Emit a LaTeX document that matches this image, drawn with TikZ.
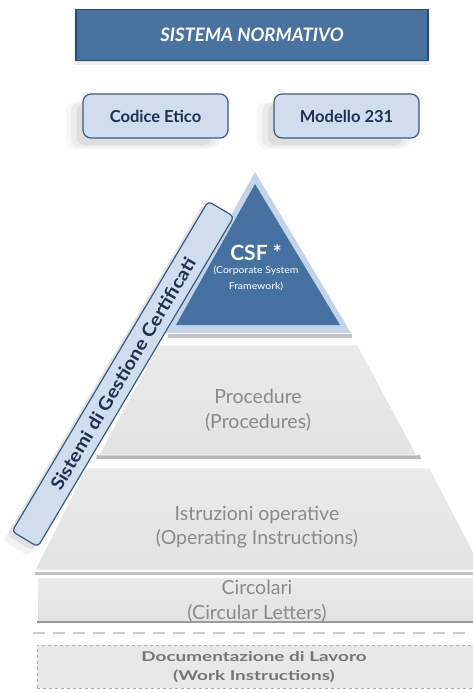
\documentclass[tikz,border=0pt]{standalone}
\usepackage{fontspec}
\setmainfont{Lato}
\usetikzlibrary{shadows,shapes.geometric}
\definecolor{navyfill}{HTML}{4A72A0}
\definecolor{navyedge}{HTML}{2A4A78}
\definecolor{lightblue}{HTML}{CFDDEE}
\definecolor{lightedge}{HTML}{3A5A82}
\definecolor{darktext}{HTML}{1F3050}
\definecolor{triedge}{HTML}{C3D4E8}
\definecolor{trifill}{HTML}{4571A0}
\definecolor{layertext}{HTML}{8A8A8A}
\definecolor{layerfill}{HTML}{E2E2E2}
\definecolor{layerdark}{HTML}{9A9A9A}
\definecolor{doctext}{HTML}{767676}
\tikzset{
  softshadow/.style={
    drop shadow={opacity=0.07, shadow xshift=-12pt, shadow yshift=-9pt, shadow scale=1.06},
    drop shadow={opacity=0.09, shadow xshift=-12pt, shadow yshift=-9pt, shadow scale=1.0},
    drop shadow={opacity=0.12, shadow xshift=-12pt, shadow yshift=-9pt, shadow scale=0.93}},
  titlebox/.style={draw=navyedge, line width=1.5pt, fill=navyfill, minimum width=352pt, minimum height=51pt,
    text=white, font=\fontsize{18.5}{20}\selectfont\bfseries\itshape,
    drop shadow={opacity=0.12, shadow xshift=0pt, shadow yshift=-4pt, shadow scale=1.01},
    drop shadow={opacity=0.15, shadow xshift=0pt, shadow yshift=-2pt}},
  docbox/.style={draw=lightedge, line width=1.2pt, fill=lightblue, rounded corners=8pt, minimum width=145pt,
    minimum height=44pt, text=darktext, font=\fontsize{16.5}{18}\selectfont\bfseries, softshadow},
  layer/.style={top color=layerfill!70, bottom color=layerfill, draw=white, line width=0.8pt},
  layertxt/.style={text=layertext, align=center, font=\fontsize{19.5}{24.5}\selectfont},
  banner/.style={draw=lightedge, line width=1.2pt, fill=lightblue, rounded corners=4pt, minimum width=384pt,
    minimum height=30pt, text=darktext, font=\fontsize{18}{20}\selectfont\bfseries\addfontfeature{FakeStretch=1.12},
    drop shadow={opacity=0.1, shadow xshift=-7pt, shadow yshift=-6pt, shadow scale=1.02},
    drop shadow={opacity=0.15, shadow xshift=-5pt, shadow yshift=-4pt}},
}
\begin{document}
\begin{tikzpicture}[x=1pt,y=-1pt]
\clip (0,0) rectangle (473,693);
\fill[white] (0,0) rectangle (473,693);

% title
\node[titlebox] (title) at (252,35) {SISTEMA NORMATIVO};
\node[docbox] (codice) at (155.5,116) {Codice Etico};
\node[docbox] (modello) at (346.5,116) {Modello 231};

% lower bands
\shade[layer] (37,577) rectangle (490,622);
\draw[layerdark, line width=1.5pt] (37,622) -- (490,622);
\node[layertxt] (circ) at (257,601) {Circolari\\(Circular Letters)};

\draw[gray!40, line width=2pt, dash pattern=on 12pt off 8pt] (33,633) -- (480,633);

\fill[layerfill!80] (37,645) rectangle (490,688);
\draw[gray!60, dashed, line width=0.8pt] (37,688) -- (37,645) -- (490,645);
\draw[gray!70, dashed, line width=1pt] (37,688) -- (490,688);
\node[text=doctext, align=center, font=\fontsize{13.5}{19}\selectfont\bfseries\addfontfeature{FakeStretch=1.4}] (doc) at (254,667) {Documentazione di Lavoro\\(Work Instructions)};

% Istruzioni trapezoid
\fill[layerdark, opacity=0.6] (35,572) -- (482,572) -- (482,575) -- (35,575) -- cycle;
\shade[layer] (86,468) -- (430,468) -- (483,570) -- (35,570) -- cycle;
\draw[white, line width=1.2pt] (430,468) -- (483,570);
\node[layertxt] (istr) at (257,527) {Istruzioni operative\\(Operating Instructions)};

% Procedure trapezoid
\fill[layerdark, opacity=0.7] (97,455) -- (420,455) -- (421,459) -- (96,459) -- cycle;
\shade[layer] (158,345) -- (358,345) -- (417,455) -- (99,455) -- cycle;
\draw[white, line width=1.2pt] (358,345) -- (417,455);
\node[layertxt] (proc) at (258,410) {Procedure\\(Procedures)};

% CSF triangle
\fill[layerdark, opacity=0.6] (168,334) -- (352,334) -- (352,338) -- (168,338) -- cycle;
\fill[triedge] (255,172) -- (351,333) -- (166,333) -- cycle;
\fill[trifill] (255,184) -- (340,325) -- (176,325) -- cycle;
\node[text=white, font=\fontsize{21}{22}\selectfont\bfseries] (csf) at (256,253) {CSF *};
\node[text=white, align=center, font=\fontsize{9.5}{16}\selectfont\addfontfeature{FakeStretch=1.1}] (csfsub) at (256,279) {(Corporate System\\Framework)};

% banner
\node[banner, rotate=59.3] (banner) at (123,374) {Sistemi di Gestione Certificati};
\end{tikzpicture}
\end{document}
